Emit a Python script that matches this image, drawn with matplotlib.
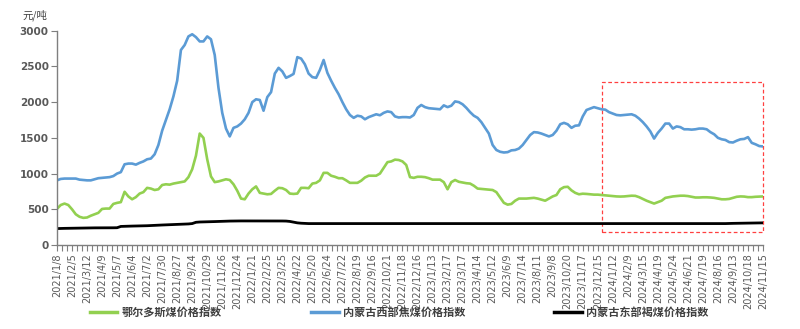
import matplotlib
matplotlib.use("Agg")
import matplotlib.pyplot as plt
from matplotlib.patches import Rectangle
import numpy as np

plt.rcParams['font.family'] = ['Noto Sans CJK SC', 'DejaVu Sans']

tick_labels = ["2021/1/8", "2021/2/5", "2021/3/12", "2021/4/9", "2021/5/7", "2021/6/4", "2021/7/2", "2021/7/30",
               "2021/8/27", "2021/9/24", "2021/10/29", "2021/11/26", "2021/12/24", "2022/1/21", "2022/2/25",
               "2022/3/25", "2022/4/22", "2022/5/20", "2022/6/24", "2022/7/22", "2022/8/19", "2022/9/16",
               "2022/10/21", "2022/11/18", "2022/12/16", "2023/1/13", "2023/2/17", "2023/3/17", "2023/4/14",
               "2023/5/12", "2023/6/9", "2023/7/14", "2023/8/11", "2023/9/8", "2023/10/20", "2023/11/17",
               "2023/12/15", "2024/1/12", "2024/2/9", "2024/3/15", "2024/4/19", "2024/5/24", "2024/6/21",
               "2024/7/19", "2024/8/16", "2024/9/13", "2024/10/18", "2024/11/15"]

series_names = ["鄂尔多斯煤价格指数", "内蒙古西部焦煤价格指数", "内蒙古东部褐煤价格指数"]

ordos = [507, 560, 580, 560, 500, 430, 395, 380, 385, 410,
         430, 450, 505, 510, 510, 575, 590, 600, 745, 680,
         640, 670, 720, 740, 800, 790, 770, 780, 840, 850,
         845, 860, 870, 880, 890, 950, 1060, 1250, 1560, 1500,
         1200, 960, 880, 890, 905, 920, 910, 850, 760, 650,
         640, 720, 780, 820, 730, 720, 710, 715, 760, 800,
         795, 770, 720, 715, 720, 800, 800, 795, 860, 870,
         905, 1010, 1010, 970, 955, 935, 935, 905, 870, 870,
         870, 900, 945, 970, 970, 970, 1000, 1080, 1160, 1170,
         1195, 1190, 1170, 1120, 950, 940, 955, 955, 950, 935,
         915, 915, 915, 880, 780, 880, 910, 885, 875, 865,
         860, 830, 790, 785, 780, 775, 770, 740, 665, 590,
         565, 575, 620, 650, 650, 650, 655, 660, 650, 635,
         620, 650, 680, 700, 780, 810, 815, 765, 730, 710,
         718, 715, 710, 705, 705, 700, 695, 690, 685, 680,
         678, 680, 685, 690, 688, 670, 645, 620, 600, 580,
         600, 620, 660, 670, 680, 685, 690, 690, 685, 675,
         665, 665, 668, 668, 665, 660, 650, 640, 640, 645,
         660, 675, 680, 678, 670, 670, 675, 678, 680]

west_coking = [905, 925, 930, 930, 930, 930, 915, 910, 905, 905,
               920, 935, 940, 945, 950, 965, 1000, 1020, 1130, 1140,
               1140, 1125, 1150, 1170, 1200, 1210, 1270, 1400, 1600, 1750,
               1900, 2080, 2300, 2730, 2800, 2920, 2950, 2910, 2850, 2850,
               2920, 2880, 2660, 2200, 1850, 1630, 1520, 1640, 1660, 1700,
               1760, 1850, 2000, 2040, 2030, 1880, 2070, 2140, 2400, 2480,
               2430, 2340, 2365, 2395, 2630, 2610, 2530, 2400, 2350, 2340,
               2450, 2590, 2410, 2300, 2200, 2110, 2000, 1900, 1820, 1780,
               1810, 1800, 1760, 1790, 1810, 1830, 1816, 1850, 1870, 1860,
               1800, 1785, 1790, 1790, 1785, 1820, 1920, 1960, 1930, 1915,
               1910, 1905, 1900, 1955, 1930, 1950, 2010, 2000, 1970, 1920,
               1860, 1810, 1780, 1720, 1640, 1560, 1400, 1330, 1305, 1295,
               1300, 1325, 1330, 1350, 1400, 1470, 1540, 1580, 1575, 1560,
               1540, 1520, 1540, 1600, 1690, 1710, 1690, 1640, 1670, 1675,
               1800, 1890, 1910, 1930, 1915, 1900, 1895, 1860, 1840, 1820,
               1815, 1820, 1825, 1830, 1810, 1770, 1720, 1660, 1590, 1490,
               1570, 1630, 1700, 1700, 1630, 1660, 1650, 1620, 1620, 1615,
               1620, 1630, 1630, 1620, 1580, 1550, 1500, 1480, 1470, 1440,
               1435, 1460, 1480, 1485, 1510, 1430, 1410, 1385, 1380]

east_lignite = [230, 232, 233, 234, 235, 236, 237, 238, 238, 239,
                240, 240, 240, 240, 241, 241, 242, 260, 262, 264,
                265, 266, 267, 268, 270, 272, 275, 278, 280, 282,
                284, 286, 288, 290, 292, 295, 300, 318, 322, 324,
                325, 326, 328, 330, 332, 335, 335, 336, 336, 337,
                337, 338, 338, 338, 338, 338, 338, 338, 337, 337,
                336, 335, 330, 320, 310, 305, 302, 300, 300, 300,
                300, 300, 300, 300, 300, 300, 300, 300, 300, 300,
                300, 300, 300, 300, 300, 300, 300, 300, 300, 300,
                300, 300, 300, 300, 300, 300, 300, 300, 300, 300,
                300, 300, 300, 300, 300, 300, 300, 300, 300, 300,
                300, 300, 300, 300, 300, 300, 300, 300, 300, 300,
                300, 300, 300, 300, 300, 300, 300, 300, 300, 300,
                300, 300, 300, 300, 300, 300, 300, 300, 300, 300,
                300, 300, 300, 300, 300, 300, 300, 300, 300, 300,
                300, 300, 300, 300, 300, 300, 300, 300, 300, 300,
                300, 300, 300, 300, 300, 300, 300, 300, 300, 300,
                300, 300, 300, 300, 300, 300, 300, 300, 300, 302,
                303, 304, 305, 306, 307, 308, 309, 310, 310]

yticks = [0, 500, 1000, 1500, 2000, 2500, 3000]

fig = plt.figure(figsize=(8, 3.29), dpi=100)
ax = fig.add_axes([0.07125, 0.2553, 0.8825, 0.6514])

x = np.arange(len(ordos))
l1, = ax.plot(x, ordos, color='#92D050', lw=1.9, solid_joinstyle='round')
l2, = ax.plot(x, west_coking, color='#5B9BD5', lw=1.9, solid_joinstyle='round')
l3, = ax.plot(x, east_lignite, color='#000000', lw=2.0, solid_joinstyle='round')

ax.set_xlim(0, len(ordos) - 1)
ax.set_ylim(0, 3000)
ax.set_yticks(yticks)
ax.set_yticklabels([str(v) for v in yticks], fontsize=7.5, color='#595959', fontweight='bold',
                   family=['DejaVu Sans'])
label_pos = np.arange(0, len(ordos), 4)
ax.set_xticks(label_pos)
ax.set_xticklabels(tick_labels, rotation=90, fontsize=7, color='#595959', family=['DejaVu Sans'])
ax.set_xticks(np.arange(0, len(ordos) - 0.5, 4 / 3), minor=True)
ax.tick_params(axis='x', which='both', length=4, width=0.8, color='#7f7f7f', pad=2)
ax.tick_params(axis='y', length=4, width=0.8, color='#7f7f7f', pad=2)

for s in ['top', 'right']:
    ax.spines[s].set_visible(False)
for s in ['left', 'bottom']:
    ax.spines[s].set_color('#7f7f7f')
    ax.spines[s].set_linewidth(1.0)

# red dashed annotation box
rect = Rectangle((145, 185), 43, 2095, fill=False, edgecolor='#FF4040', lw=0.9,
                 linestyle=(0, (3, 2)), clip_on=False)
ax.add_patch(rect)

fig.text(0.028, 0.955, "元/吨", fontsize=7.5, color='#404040', ha='left', va='center')

leg = fig.legend([l1, l2, l3], series_names, loc='center', bbox_to_anchor=(0.499, 0.05), ncol=3,
                 frameon=False, fontsize=8, handlelength=2.5, handletextpad=0.4, columnspacing=8.0)
for t in leg.get_texts():
    t.set_color('#404040')
    t.set_fontweight('bold')
for h in leg.legend_handles:
    h.set_linewidth(2.5)

fig.savefig("out.png", dpi=100)
